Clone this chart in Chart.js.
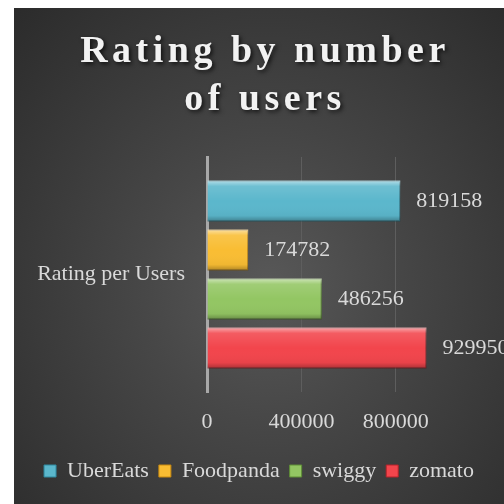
<!DOCTYPE html>
<html>
<head>
<meta charset="utf-8">
<script src="https://cdn.jsdelivr.net/npm/chart.js@4.4.0/dist/chart.umd.min.js"></script>
<style>
html, body { margin: 0; padding: 0; background: #fff; }
#wrap {
    position: absolute; left: 14px; top: 8px; width: 490px; height: 496px;
    background: radial-gradient(ellipse at 52% 56%, #585858 0%, #474747 35%, #2b2b2b 100%);
}
canvas { display: block; }
</style>
</head>
<body>
<div id="wrap"><canvas id="chart" width="490" height="496"></canvas></div>
<script>
// chart data
const titleLines = ['Rating by number', 'of users']
const categories = ['Rating per Users']
const seriesNames = ['UberEats', 'Foodpanda', 'swiggy', 'zomato']
const uberEatsValues = [819158]
const foodpandaValues = [174782]
const swiggyValues = [486256]
const zomatoValues = [929950]
const seriesValues = [uberEatsValues, foodpandaValues, swiggyValues, zomatoValues]
const seriesColors = ['#5bb7cc', '#f9bd33', '#93c663', '#f2454c']
const borderColors = ['#2f8aa0', '#c98a10', '#5f8f36', '#b5222a']
const xTickValues = [0, 400000, 800000]
const axisMax = 1000000

const textColor = '#d9d9d9'
const serif = '"Liberation Serif", "DejaVu Serif", serif'

// title drawn by hand so it can have letter spacing + shadow
const titlePlugin = {
    id: 'titlePlugin',
    afterDraw(chart) {
        const ctx = chart.ctx
        ctx.save()
        ctx.font = 'bold 38px ' + serif
        ctx.letterSpacing = '4.5px'
        ctx.textAlign = 'center'
        ctx.textBaseline = 'alphabetic'
        ctx.fillStyle = '#f2f2f2'
        ctx.shadowColor = 'rgba(0,0,0,0.7)'
        ctx.shadowBlur = 4
        ctx.shadowOffsetX = 2
        ctx.shadowOffsetY = 2
        ctx.fillText(titleLines[0], 251, 54)
        ctx.fillText(titleLines[1], 251, 102)
        ctx.restore()
    }
}

// light top edge / dark bottom edge on each bar
const bevelPlugin = {
    id: 'bevelPlugin',
    afterDatasetsDraw(chart) {
        const ctx = chart.ctx
        chart.data.datasets.forEach((ds, i) => {
            chart.getDatasetMeta(i).data.forEach(bar => {
                const p = bar.getProps(['x', 'y', 'base', 'height'], true)
                const top = p.y - p.height / 2
                const bottom = p.y + p.height / 2
                const grad = ctx.createLinearGradient(0, top, 0, bottom)
                grad.addColorStop(0, 'rgba(255,255,255,0.55)')
                grad.addColorStop(0.14, 'rgba(255,255,255,0.12)')
                grad.addColorStop(0.5, 'rgba(255,255,255,0)')
                grad.addColorStop(0.86, 'rgba(0,0,0,0.04)')
                grad.addColorStop(1, 'rgba(0,0,0,0.3)')
                ctx.save()
                ctx.fillStyle = grad
                ctx.fillRect(p.base, top, p.x - p.base, p.height)
                ctx.restore()
            })
        })
    }
}

// value labels right of the bars
const valueLabels = {
    id: 'valueLabels',
    afterDatasetsDraw(chart) {
        const ctx = chart.ctx
        ctx.save()
        ctx.font = '22px ' + serif
        ctx.fillStyle = textColor
        ctx.textAlign = 'left'
        ctx.textBaseline = 'middle'
        chart.data.datasets.forEach((ds, i) => {
            chart.getDatasetMeta(i).data.forEach((bar, j) => {
                ctx.fillText(String(ds.data[j]), bar.x + 16, bar.y)
            })
        })
        ctx.restore()
    }
}

const datasets = seriesNames.map((name, i) => ({
    label: name,
    data: seriesValues[i],
    backgroundColor: seriesColors[i],
    borderColor: borderColors[i],
    borderWidth: 1,
    categoryPercentage: 0.834,
    barPercentage: 0.837
}))

new Chart(document.getElementById('chart'), {
    type: 'bar',
    data: { labels: categories, datasets: datasets },
    plugins: [bevelPlugin, valueLabels, titlePlugin],
    options: {
        indexAxis: 'y',
        responsive: false,
        animation: false,
        layout: { padding: { top: 149, right: 0, left: 0, bottom: 12 } },
        scales: {
            x: {
                min: 0,
                max: axisMax,
                // Excel shows 0 / 400000 / 800000 only, axis runs on to 1000000
                afterBuildTicks: axis => {
                    axis.ticks = xTickValues.map(v => ({ value: v }))
                },
                afterFit: scale => { scale.height = 58 },
                ticks: {
                    autoSkip: false,
                    callback: value => String(value),
                    color: textColor,
                    font: { family: serif, size: 22 },
                    padding: 17,
                    maxRotation: 0
                },
                grid: { color: '#5e5e5e', lineWidth: 1, drawTicks: false },
                border: { display: false }
            },
            y: {
                afterFit: scale => { scale.width = 193 },
                ticks: {
                    color: textColor,
                    font: { family: serif, size: 22 },
                    padding: 22
                },
                grid: { display: false, drawTicks: false },
                border: { display: true, color: '#a8a8a8', width: 3 }
            },
            // empty right-hand axis that only keeps room for the value labels
            yRight: {
                position: 'right',
                type: 'category',
                afterFit: scale => { scale.width = 61 },
                ticks: { display: false },
                grid: { display: false, drawTicks: false },
                border: { display: false }
            }
        },
        plugins: {
            title: { display: false },
            tooltip: { enabled: false },
            legend: {
                position: 'bottom',
                labels: {
                    color: textColor,
                    font: { family: serif, size: 22 },
                    boxWidth: 12,
                    boxHeight: 12,
                    padding: 10
                }
            }
        }
    }
})
</script>
</body>
</html>
